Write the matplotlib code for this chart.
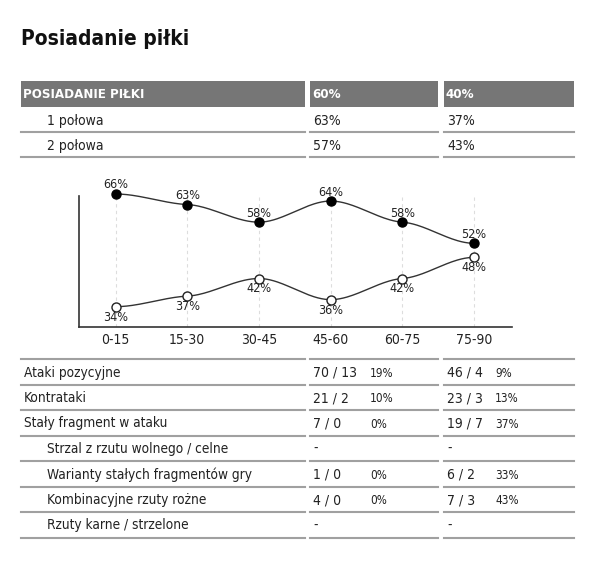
import numpy as np
import matplotlib.pyplot as plt
from matplotlib.patches import Rectangle

plt.rcParams['font.family'] = ['DejaVu Sans']
plt.rcParams['font.stretch'] = 'condensed'

title = 'Posiadanie piłki'

head_cols = ['POSIADANIE PIŁKI', '60%', '40%']
half_labels = ['1 połowa', '2 połowa']
half_home = ['63%', '57%']
half_away = ['37%', '43%']

periods = ['0-15', '15-30', '30-45', '45-60', '60-75', '75-90']
home_poss = [66, 63, 58, 64, 58, 52]
away_poss = [34, 37, 42, 36, 42, 48]

stat_labels = ['Ataki pozycyjne', 'Kontrataki', 'Stały fragment w ataku',
               'Strzal z rzutu wolnego / celne', 'Warianty stałych fragmentów gry',
               'Kombinacyjne rzuty rożne', 'Rzuty karne / strzelone']
stat_indent = [False, False, False, True, True, True, True]
home_att = ['70 / 13', '21 / 2', '7 / 0', '-', '1 / 0', '4 / 0', '-']
home_pct = ['19%', '10%', '0%', '', '0%', '0%', '']
away_att = ['46 / 4', '23 / 3', '19 / 7', '-', '6 / 2', '7 / 3', '-']
away_pct = ['9%', '13%', '37%', '', '33%', '43%', '']

TXT = '#222222'
LINE = '#a0a0a0'
HEAD = '#767676'
cols = [(21, 305), (310, 438), (444, 574)]


def smooth(y, n=40, k=0.25):
    # cubic hermite through the points, tangents nearly flat
    y = np.asarray(y, float)
    s = np.diff(y)
    t = np.zeros_like(y)
    for i in range(1, len(y) - 1):
        if np.sign(s[i - 1]) == np.sign(s[i]):
            t[i] = k * (s[i - 1] + s[i]) / 2
    xs, ys = [], []
    u = np.linspace(0, 1, n)
    h00 = 2 * u**3 - 3 * u**2 + 1
    h10 = u**3 - 2 * u**2 + u
    h01 = -2 * u**3 + 3 * u**2
    h11 = u**3 - u**2
    for i in range(len(y) - 1):
        xs.append(i + u)
        ys.append(h00 * y[i] + h10 * t[i] + h01 * y[i + 1] + h11 * t[i + 1])
    return np.concatenate(xs), np.concatenate(ys)


fig = plt.figure(figsize=(6, 5.84), dpi=100)
bg = fig.add_axes([0, 0, 1, 1])
bg.set_xlim(0, 600)
bg.set_ylim(584, 0)
bg.axis('off')

bg.text(21, 39, title, fontsize=15, fontweight='bold', color='#111111', va='center')

# header table
for (x0, x1), lab in zip(cols, head_cols):
    bg.add_patch(Rectangle((x0, 81), x1 - x0, 26, color=HEAD, lw=0))
    bg.text(x0 + 2, 94.5, lab, color='white', fontweight='bold', fontsize=9.5, va='center')

for i, lab in enumerate(half_labels):
    yc = 121 + i * 25
    bg.text(47, yc, lab, fontsize=10, color=TXT, va='center')
    bg.text(cols[1][0] + 3, yc, half_home[i], fontsize=10, color=TXT, va='center')
    bg.text(cols[2][0] + 3, yc, half_away[i], fontsize=10, color=TXT, va='center')
    for x0, x1 in cols:
        bg.plot([x0, x1], [yc + 11, yc + 11], color=LINE, lw=1.5)

# stats table
for x0, x1 in cols:
    bg.plot([x0, x1], [359, 359], color=LINE, lw=1.5)
for i, lab in enumerate(stat_labels):
    yc = 372.5 + i * 25.5
    bg.text(47 if stat_indent[i] else 24, yc, lab, fontsize=9.8, color=TXT, va='center')
    bg.text(cols[1][0] + 3, yc, home_att[i], fontsize=10, color=TXT, va='center')
    bg.text(370, yc + 1, home_pct[i], fontsize=8.5, color=TXT, va='center')
    bg.text(cols[2][0] + 3, yc, away_att[i], fontsize=10, color=TXT, va='center')
    bg.text(495, yc + 1, away_pct[i], fontsize=8.5, color=TXT, va='center')
    for x0, x1 in cols:
        bg.plot([x0, x1], [yc + 12, yc + 12], color=LINE, lw=1.5)

# possession chart
top, bottom, left, right = 196, 327, 79, 512
ax = fig.add_axes([left / 600, 1 - bottom / 584, (right - left) / 600, (bottom - top) / 584])
ax.patch.set_alpha(0)
xi = np.arange(len(periods))
ax.set_xlim(-0.51, 5.53)
ax.set_ylim(28.23, 65.43)
for s in ['top', 'right']:
    ax.spines[s].set_visible(False)
for s in ['left', 'bottom']:
    ax.spines[s].set_color('#333333')
    ax.spines[s].set_linewidth(1.2)
ax.set_yticks([])
ax.set_xticks(xi)
ax.set_xticklabels(periods, fontsize=10, color=TXT)
ax.tick_params(axis='x', length=0, pad=4)
for x in xi:
    ax.axvline(x, color='#dddddd', lw=0.8, ls=(0, (3, 3)), zorder=0)

cx, cy = smooth(home_poss)
ax.plot(cx, cy, color='#333333', lw=1, zorder=2, clip_on=False)
cx, cy = smooth(away_poss)
ax.plot(cx, cy, color='#333333', lw=1, zorder=2, clip_on=False)
ax.plot(xi, home_poss, 'o', ms=6.5, mfc='black', mec='black', zorder=3, clip_on=False)
ax.plot(xi, away_poss, 'o', ms=6.5, mfc='white', mec='#222222', mew=1, zorder=3, clip_on=False)
for x, v in zip(xi, home_poss):
    ax.annotate(f'{v}%', (x, v), xytext=(0, 6.5), textcoords='offset points',
                ha='center', va='center', fontsize=9, color=TXT, annotation_clip=False)
for x, v in zip(xi, away_poss):
    ax.annotate(f'{v}%', (x, v), xytext=(0, -7.5), textcoords='offset points',
                ha='center', va='center', fontsize=9, color=TXT, annotation_clip=False)

fig.savefig('out.png', dpi=100)
